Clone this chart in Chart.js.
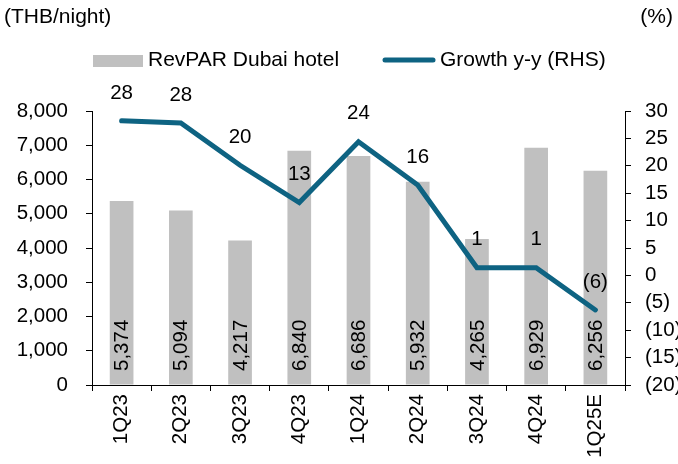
<!DOCTYPE html>
<html>
<head>
<meta charset="utf-8">
<script src="https://cdn.jsdelivr.net/npm/chart.js@4/dist/chart.umd.min.js"></script>
<style>
html,body{margin:0;padding:0;background:#fff;}
#wrap{width:678px;height:464px;position:relative;}
</style>
</head>
<body>
<div id="wrap"><canvas id="c" width="678" height="464"></canvas></div>
<script>
const categories = ['1Q23','2Q23','3Q23','4Q23','1Q24','2Q24','3Q24','4Q24','1Q25E'];
const revpar = [5374, 5094, 4217, 6840, 6686, 5932, 4265, 6929, 6256];
const growth = [28.2, 27.8, 20.1, 13.3, 24.4, 16.5, 1.4, 1.4, -6.3];
const growthLabels = ['28','28','20','13','24','16','1','1','(6)'];
const leftTicks = [0, 8000, 1000];
const rightTicks = [-20, 30, 5];

const FONT = 'Liberation Sans, Arial, sans-serif';
const BAR_COLOR = '#C0C0C0';
const LINE_COLOR = '#0E6382';

const labelPlugin = {
  id: 'labels',
  afterDatasetsDraw(chart) {
    const ctx = chart.ctx;
    ctx.save();
    ctx.fillStyle = '#000';
    ctx.font = '20.5px ' + FONT;
    // bar value labels
    const barMeta = chart.getDatasetMeta(0);
    const yL = chart.scales.y;
    barMeta.data.forEach((el, i) => {
      ctx.save();
      ctx.translate(el.x, yL.getPixelForValue(0) - 14);
      ctx.rotate(-Math.PI / 2);
      ctx.textAlign = 'left';
      ctx.textBaseline = 'middle';
      ctx.fillText(revpar[i].toLocaleString('en-US'), 0, 1);
      ctx.restore();
    });
    // line labels
    const lineMeta = chart.getDatasetMeta(1);
    ctx.textAlign = 'center';
    ctx.textBaseline = 'middle';
    lineMeta.data.forEach((el, i) => {
      ctx.fillText(growthLabels[i], el.x, el.y - 28);
    });
    // titles
    ctx.font = '21px ' + FONT;
    ctx.textAlign = 'left';
    ctx.fillText('(THB/night)', 4, 17);
    ctx.textAlign = 'right';
    ctx.fillText('(%)', 673, 17);
    // legend
    ctx.fillStyle = BAR_COLOR;
    ctx.fillRect(93, 55, 50, 12);
    ctx.fillStyle = '#000';
    ctx.textAlign = 'left';
    ctx.fillText('RevPAR Dubai hotel', 148, 60);
    ctx.strokeStyle = LINE_COLOR;
    ctx.lineWidth = 5;
    ctx.lineCap = 'round';
    ctx.beginPath();
    ctx.moveTo(385, 60);
    ctx.lineTo(433, 60);
    ctx.stroke();
    ctx.fillText('Growth y-y (RHS)', 440, 60);
    ctx.restore();
  }
};

new Chart(document.getElementById('c'), {
  data: {
    labels: categories,
    datasets: [
      {
        type: 'bar',
        label: 'RevPAR Dubai hotel',
        data: revpar,
        backgroundColor: BAR_COLOR,
        barPercentage: 0.4,
        categoryPercentage: 1.0,
        yAxisID: 'y',
        order: 2
      },
      {
        type: 'line',
        label: 'Growth y-y (RHS)',
        data: growth,
        borderColor: LINE_COLOR,
        borderWidth: 5,
        borderCapStyle: 'round',
        borderJoinStyle: 'miter',
        pointRadius: 0,
        tension: 0,
        fill: false,
        yAxisID: 'y1',
        order: 1
      }
    ]
  },
  options: {
    responsive: false,
    animation: false,
    devicePixelRatio: 1,
    layout: { padding: { top: 111, left: 0, right: 0, bottom: 0 } },
    plugins: { legend: { display: false }, tooltip: { enabled: false }, title: { display: false } },
    scales: {
      x: {
        offset: true,
        grid: { display: true, drawOnChartArea: false, offset: true, tickLength: 6, color: '#000' },
        border: { color: '#000', width: 1 },
        ticks: { color: '#000', font: { family: FONT, size: 20.5 }, minRotation: 90, maxRotation: 90, padding: 3, autoSkip: false },
        afterFit(s) { s.height = 79; }
      },
      y: {
        position: 'left',
        min: leftTicks[0], max: leftTicks[1],
        grid: { display: true, drawOnChartArea: false, tickLength: 6, color: '#000' },
        border: { color: '#000', width: 1 },
        ticks: { stepSize: leftTicks[2], autoSkip: false, color: '#000', font: { family: FONT, size: 20.5 }, padding: 18,
          callback: v => v.toLocaleString('en-US') },
        afterFit(s) { s.width = 92; }
      },
      y1: {
        position: 'right',
        min: rightTicks[0], max: rightTicks[1],
        grid: { display: true, drawOnChartArea: false, tickLength: 6, color: '#000' },
        border: { color: '#000', width: 1 },
        ticks: { stepSize: rightTicks[2], autoSkip: false, color: '#000', font: { family: FONT, size: 20.5 }, padding: 14,
          callback: v => v < 0 ? '(' + (-v) + ')' : String(v) },
        afterFit(s) { s.width = 53; }
      }
    }
  },
  plugins: [labelPlugin]
});
</script>
</body>
</html>
